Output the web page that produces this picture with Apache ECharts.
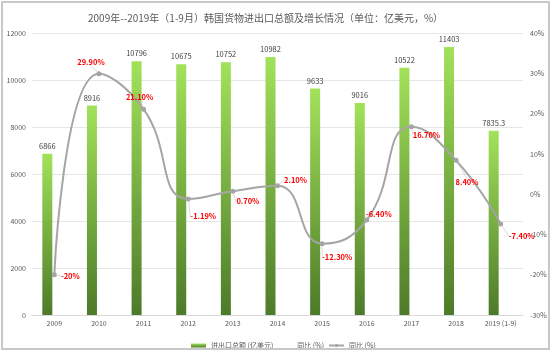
<!DOCTYPE html>
<html><head><meta charset="utf-8">
<script src="https://cdn.jsdelivr.net/npm/echarts@6/dist/echarts.min.js"></script>
<style>html,body{margin:0;padding:0;background:#fff}#c{width:554px;height:355px}</style>
</head><body><div id="c"></div>
<script>
const categories = ['2009','2010','2011','2012','2013','2014','2015','2016','2017','2018','2019 (1-9)'];
const totalValues = [6866, 8916, 10796, 10675, 10752, 10982, 9633, 9016, 10522, 11403, 7835.3];
const growthValues = [-20, 29.9, 21.1, -1.19, 0.7, 2.1, -12.3, -6.4, 16.7, 8.4, -7.4];
const growthLabels = ['-20%','29.90%','21.10%','-1.19%','0.70%','2.10%','-12.30%','-6.40%','16.70%','8.40%','-7.40%'];
const leftTicks = {min: 0, max: 12000, interval: 2000};
const rightTicks = {min: -30, max: 40, interval: 10};
// label placement offsets (dx, dy) relative to the point
const labelOffsets = [[16,1],[-8,-12],[-4,-12],[15,17],[15,10],[18,-6],[15,13],[12,-6],[15,8],[11,22],[21,12]];

const FONT = '"Noto Sans CJK SC", "Liberation Sans", sans-serif';
const chart = echarts.init(document.getElementById('c'), null, {renderer: 'canvas'});
chart.setOption({
  animation: false,
  textStyle: {fontFamily: FONT},
  title: {
    text: '2009年--2019年（1-9月）韩国货物进出口总额及增长情况（单位：亿美元，%）',
    left: 83, top: 8,
    textStyle: {fontSize: 10, fontWeight: 'normal', color: '#595959', fontFamily: FONT}
  },
  graphic: [{
    type: 'rect', shape: {x: 2, y: 2, width: 547, height: 347},
    style: {fill: 'none', stroke: '#C8C8C8', lineWidth: 2}, silent: true, z: 100
  }],
  legend: {
    left: 186, top: 337, itemGap: 4, itemWidth: 15, itemHeight: 4,
    textStyle: {fontSize: 7, color: '#595959', fontFamily: FONT},
    data: [
      {name: '进出口总额 (亿美元)', icon: 'rect'},
      {name: '同比 (%)', icon: 'none'},
      {name: '同比 (%) '}
    ]
  },
  grid: {left: 32, right: 31, top: 33, bottom: 40},
  xAxis: {
    type: 'category', data: categories,
    axisLine: {lineStyle: {color: '#D9D9D9'}},
    axisTick: {show: false},
    axisLabel: {fontSize: 7, color: '#595959', margin: 5, fontFamily: FONT}
  },
  yAxis: [{
    type: 'value', min: leftTicks.min, max: leftTicks.max, interval: leftTicks.interval,
    axisLine: {show: false}, axisTick: {show: false},
    splitLine: {lineStyle: {color: '#E6E6E6'}},
    axisLabel: {fontSize: 7, color: '#595959', margin: 6, fontFamily: FONT, formatter: v => String(v)}
  }, {
    type: 'value', min: rightTicks.min, max: rightTicks.max, interval: rightTicks.interval,
    axisLine: {show: false}, axisTick: {show: false},
    splitLine: {show: false},
    axisLabel: {fontSize: 7, color: '#595959', margin: 7, formatter: '{value}%', fontFamily: FONT}
  }],
  series: [{
    name: '进出口总额 (亿美元)', type: 'bar', data: totalValues,
    barWidth: 10, barGap: '40%',
    itemStyle: {color: new echarts.graphic.LinearGradient(0,0,0,1,[
      {offset: 0, color: '#A2E25A'}, {offset: 1, color: '#4D7A29'}])},
    label: {show: true, position: 'top', distance: 4, fontSize: 7.5, color: '#404040', fontFamily: FONT}
  }, {
    name: '同比 (%)', type: 'bar', data: categories.map(() => null),
    barWidth: 10, itemStyle: {color: 'transparent'}
  }, {
    name: '同比 (%) ', type: 'line', yAxisIndex: 1, data: growthValues,
    smooth: 0.5, symbol: 'circle', symbolSize: 5,
    lineStyle: {color: '#A5A5A5', width: 2},
    itemStyle: {color: '#A5A5A5'},
    label: {
      show: true, position: 'inside', fontSize: 7.5, fontWeight: 'bold', color: '#FF0000',
      fontFamily: FONT,
      formatter: p => growthLabels[p.dataIndex]
    },
    labelLayout: p => ({dx: labelOffsets[p.dataIndex][0], dy: labelOffsets[p.dataIndex][1]}),
    labelLine: {show: true, lineStyle: {color: '#BFBFBF', width: 0.6}},
    z: 5
  }]
});
</script></body></html>
